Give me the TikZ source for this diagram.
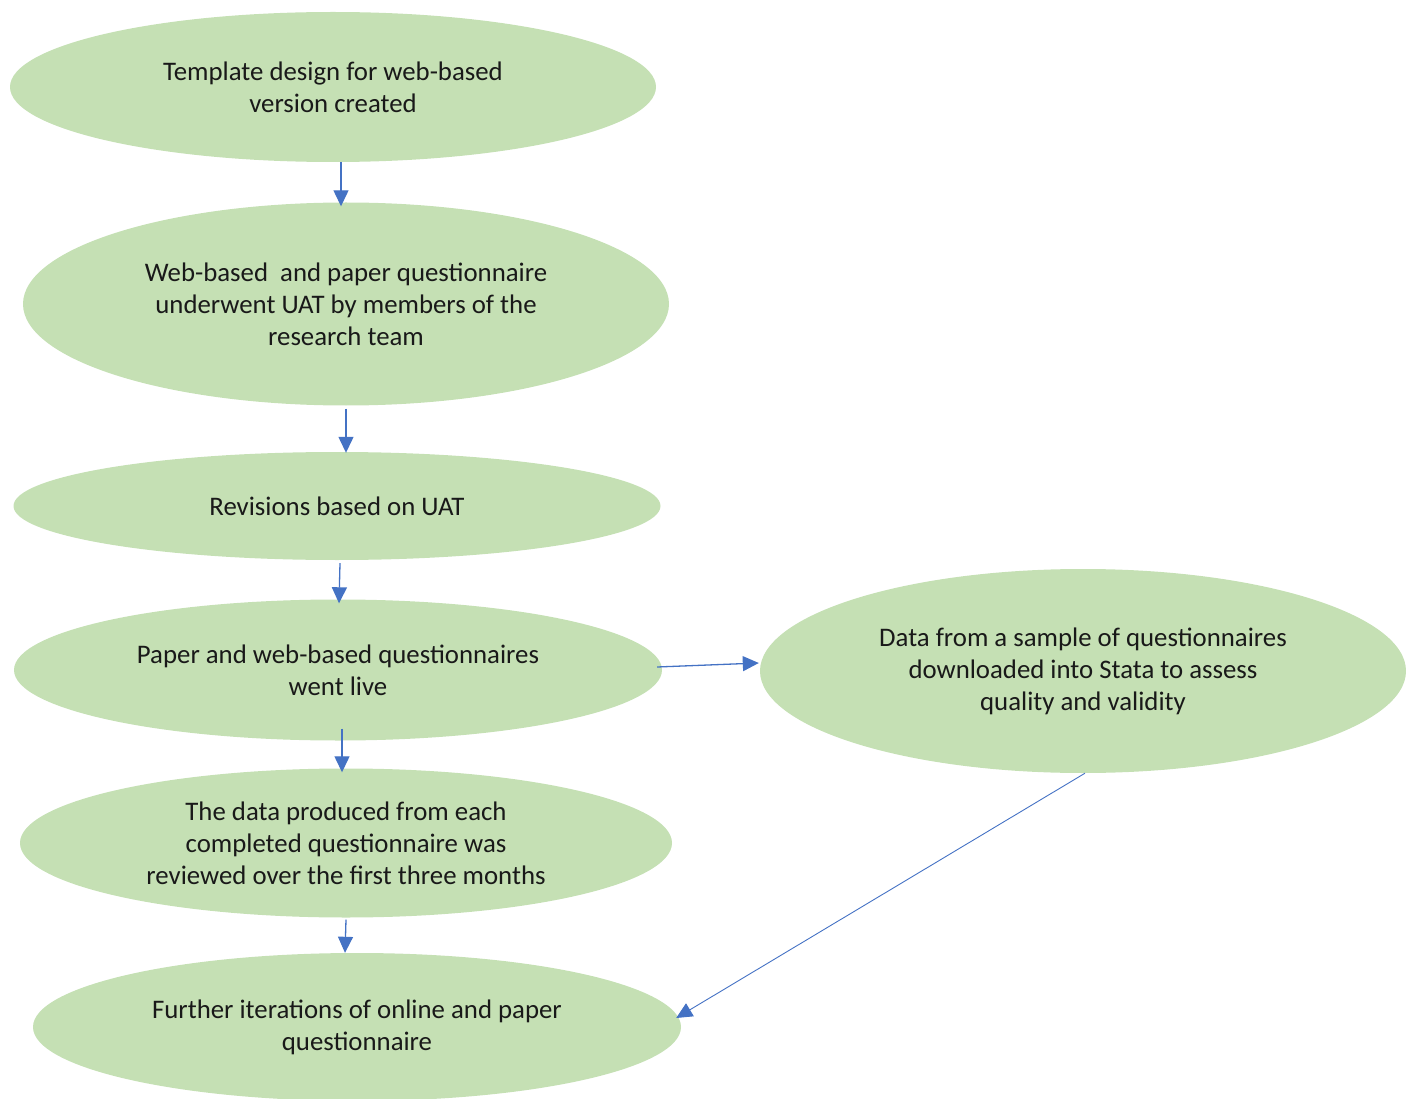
\documentclass[tikz,border=0pt]{standalone}
\usepackage{fontspec}
\setmainfont{Carlito}
\usetikzlibrary{shapes.geometric,arrows.meta}
\definecolor{boxgreen}{HTML}{C5E0B4}
\definecolor{flowblue}{HTML}{4472C4}
\tikzset{
  stage/.style={ellipse, fill=boxgreen, draw=none, inner sep=0pt,
    align=center, font=\fontsize{26.8}{32}\selectfont, text=black!90},
  flow/.style={draw=flowblue, line width=1.3pt,
    -{Triangle[width=15pt,length=16pt]}},
}
\begin{document}
\begin{tikzpicture}[x=1pt,y=-1pt]
\useasboundingbox (0,0) rectangle (1406,1099);
\clip (0,0) rectangle (1406,1099);

% process stages
\node[stage, minimum width=646, minimum height=150] (n1) at (333,87)
  {Template design for web-based\\version created};
\node[stage, minimum width=646, minimum height=203] (n2) at (346,304)
  {Web-based\ \ and paper questionnaire\\underwent UAT by members of the\\research team};
\node[stage, minimum width=647, minimum height=108] (n3) at (337,506)
  {Revisions based on UAT};
\node[stage, minimum width=648, minimum height=141] (n4) at (338,670)
  {Paper and web-based questionnaires\\went live};
\node[stage, minimum width=646, minimum height=204] (n5) at (1083,671)
  {Data from a sample of questionnaires\\downloaded into Stata to assess\\quality and validity};
\node[stage, minimum width=652, minimum height=149] (n6) at (346,843)
  {The data produced from each\\completed questionnaire was\\reviewed over the first three months};
\node[stage, minimum width=648, minimum height=148] (n7) at (357,1027)
  {Further iterations of online and paper\\questionnaire};

% connectors
\draw[flow] ([shift={(8,0)}]n1.south) -- ([shift={(-5,4)}]n2.north);
\draw[flow] ([shift={(0,3)}]n2.south) -- ([shift={(9,1)}]n3.north);
\draw[flow] ([shift={(3,3)}]n3.south) -- ([shift={(1,4)}]n4.north);
\draw[flow] ([shift={(-5,-3)}]n4.east) -- ([shift={(-1,-8)}]n5.west);
\draw[flow] ([shift={(4,-12)}]n4.south) -- ([shift={(-4,4)}]n6.north);
\draw[flow] ([shift={(0,2)}]n6.south) -- ([shift={(-12,0)}]n7.north);
\draw[flow, line width=0.9pt] ([shift={(2,0)}]n5.south) -- ([shift={(-5,-9)}]n7.east);
\end{tikzpicture}
\end{document}
